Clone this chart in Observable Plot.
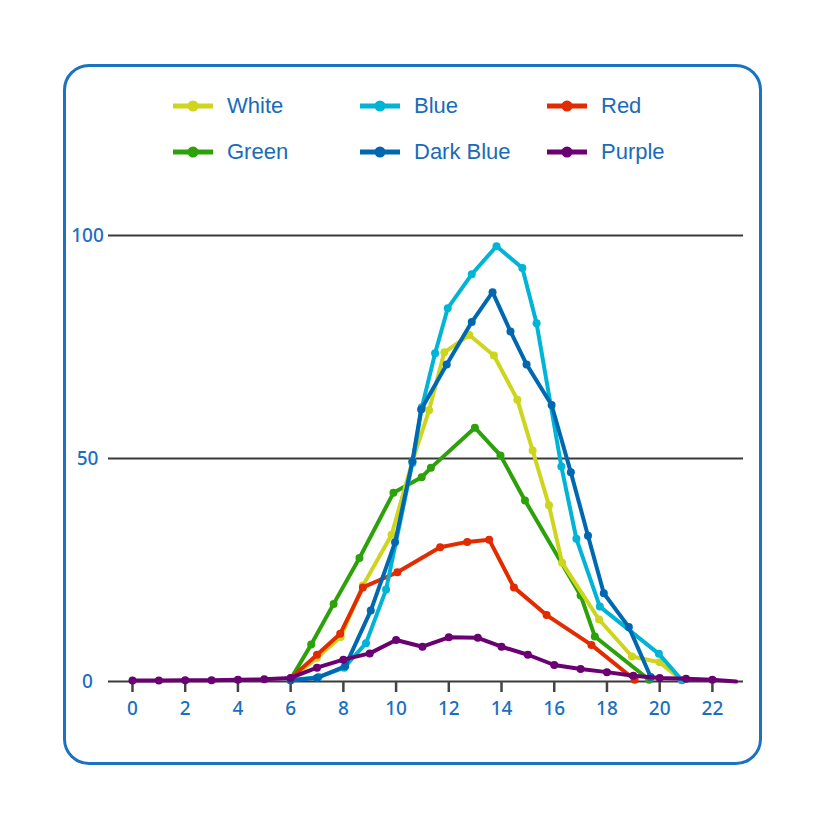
<!DOCTYPE html>
<html>
<head>
<meta charset="utf-8">
<script src="https://cdn.jsdelivr.net/npm/d3@7"></script>
<script src="https://cdn.jsdelivr.net/npm/@observablehq/plot@0.6"></script>
<style>
  html, body { margin: 0; padding: 0; background: #fff; }
  #wrap { position: relative; width: 826px; height: 826px; overflow: hidden; }
  #frame { position: absolute; left: 63px; top: 64px; width: 699px; height: 701px; box-sizing: border-box;
           border: 3px solid #1b72c0; border-radius: 26px; pointer-events: none; }
  #legend { position: absolute; left: 0; top: 0; width: 826px; height: 200px; pointer-events: none;
            font-family: "Liberation Sans", Arial, sans-serif; font-size: 22px; color: #1a6bb8; }
  .item { position: absolute; display: flex; align-items: center; height: 30px; }
  .item svg { margin-right: 14px; }
  #chart { position: absolute; left: 0; top: 0; }
</style>
</head>
<body>
<div id="wrap">
  <div id="chart"></div>
  <div id="legend"></div>
  <div id="frame"></div>
</div>
<script>
// ---- data ([x, y] pairs) ----
const seriesNames = ["White", "Blue", "Red", "Green", "Dark Blue", "Purple"];
const seriesColors = ["#cdd51c", "#00b4d6", "#e22c00", "#2ca10a", "#0068b0", "#6b0072"];

const white = [[6.0,0.5],[7.0,5.3],[7.9,10.0],[8.74,21.5],[9.83,32.9],[10.62,49.4],[11.25,60.8],[11.83,73.8],[12.78,77.7],[13.71,73.1],[14.6,63.2],[15.18,51.8],[15.8,39.5],[16.3,26.6],[17.7,13.9],[18.95,5.6],[20.0,4.3],[20.84,0.3]];
const blue = [[6.0,0.3],[7.06,1.0],[8.03,3.1],[8.86,8.6],[9.62,20.6],[10.62,49.0],[10.98,61.5],[11.48,73.6],[11.96,83.7],[12.87,91.3],[13.81,97.6],[14.79,92.7],[15.33,80.3],[16.27,48.2],[16.84,32.0],[17.73,16.8],[19.97,6.2],[20.84,0.3]];
const red = [[6.0,0.7],[7.0,6.0],[7.88,10.7],[8.74,21.1],[10.05,24.5],[11.67,30.1],[12.7,31.3],[13.53,31.8],[14.47,21.1],[15.71,14.9],[17.41,8.2],[19.05,0.4]];
const green = [[6.02,0.7],[6.78,8.3],[7.63,17.4],[8.61,27.7],[9.9,42.3],[10.97,45.8],[11.32,47.9],[12.99,56.9],[13.96,50.7],[14.89,40.6],[17.0,19.3],[17.54,10.1],[19.6,0.4]];
const darkBlue = [[6.0,0.3],[7.0,0.8],[8.07,3.4],[9.04,15.9],[9.96,31.2],[10.62,49.4],[10.95,61.0],[11.92,71.1],[12.87,80.6],[13.66,87.3],[14.34,78.5],[14.95,71.1],[15.9,62.0],[16.63,46.9],[17.28,32.7],[17.88,19.8],[18.83,12.2],[19.66,1.0]];
const purple = [[0,0.2],[1,0.2],[2,0.3],[3,0.3],[4,0.4],[5,0.5],[6,0.8],[7,3.1],[8,4.9],[9,6.3],[10,9.3],[11,7.8],[12,9.9],[13.1,9.8],[14,7.8],[15,6.0],[16,3.7],[17,2.8],[18,2.1],[19,1.3],[20,0.8],[21,0.6],[22,0.4]];
const purpleEnd = [22.9, 0];

const xTicks = [0,2,4,6,8,10,12,14,16,18,20,22];
const yTicks = [0,50,100];
const xDomain = [-0.91, 23.18];
const yDomain = [0, 100];

// ---- build tables ----
const seriesData = [white, blue, red, green, darkBlue, purple];
const colorOf = Object.fromEntries(seriesNames.map((n, i) => [n, seriesColors[i]]));
const drawOrder = ["Green", "White", "Red", "Blue", "Dark Blue", "Purple"];
const tables = Object.fromEntries(seriesNames.map((n, i) => [n, seriesData[i].map(([x, y]) => ({x, y, s: n}))]));
const purpleLine = tables["Purple"].concat([{x: purpleEnd[0], y: purpleEnd[1], s: "Purple"}]);

const marks = [
  Plot.ruleY(yTicks, {stroke: "#3a3a3a", strokeWidth: 2}),
  Plot.axisX({ticks: xTicks, label: null, tickSize: 11, tickPadding: 9, stroke: "#444", strokeWidth: 2.5,
              fill: "#1a6fc0", fontSize: 19, fontWeight: 500, tickFormat: d => String(d)}),
  Plot.axisY({ticks: yTicks, label: null, tickSize: 0, tickPadding: 21, textAnchor: "middle",
              fill: "#1a6fc0", fontSize: 19, fontWeight: 500, tickFormat: d => String(d)})
];
for (const n of drawOrder) {
  const lineData = n === "Purple" ? purpleLine : tables[n];
  marks.push(Plot.line(lineData, {x: "x", y: "y", stroke: colorOf[n], strokeWidth: 4, strokeLinejoin: "round", strokeLinecap: "round"}));
  marks.push(Plot.dot(tables[n], {x: "x", y: "y", fill: colorOf[n], r: 4}));
}

const plot = Plot.plot({
  width: 826,
  height: 826,
  marginLeft: 108,
  marginRight: 83,
  marginTop: 235,
  marginBottom: 145,
  x: {domain: xDomain, axis: null},
  y: {domain: yDomain, axis: null},
  style: {background: "transparent", fontFamily: "'Noto Sans', 'Open Sans', sans-serif", overflow: "visible"},
  marks
});
document.getElementById("chart").appendChild(plot);

// ---- legend ----
const legendPos = [
  ["White", 173, 106], ["Blue", 360, 106], ["Red", 547, 106],
  ["Green", 173, 152], ["Dark Blue", 360, 152], ["Purple", 547, 152]
];
const legend = document.getElementById("legend");
for (const [n, lx, ly] of legendPos) {
  const el = document.createElement("div");
  el.className = "item";
  el.style.left = lx + "px";
  el.style.top = (ly - 15) + "px";
  const c = colorOf[n];
  el.innerHTML = `<svg width="40" height="12"><line x1="0" y1="6" x2="40" y2="6" stroke="${c}" stroke-width="5"/><circle cx="20" cy="6" r="5.5" fill="${c}"/></svg><span>${n}</span>`;
  legend.appendChild(el);
}
</script>
</body>
</html>
